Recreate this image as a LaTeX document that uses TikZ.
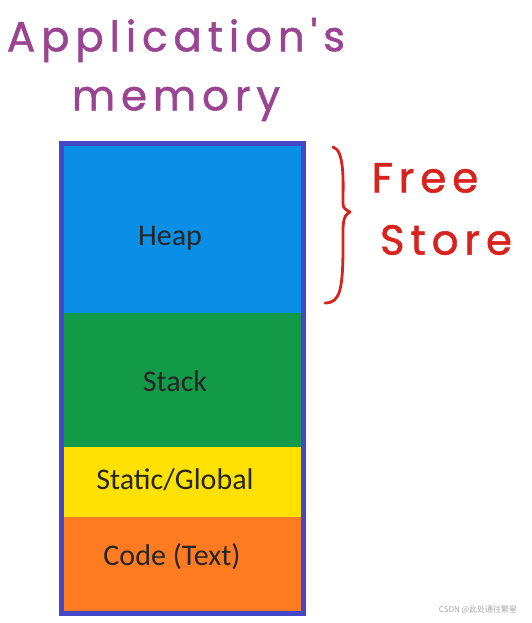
\documentclass[tikz,border=0pt]{standalone}
\usepackage{fontspec}
\setmainfont{Carlito}
\newfontfamily\hand[LetterSpace=14, FakeBold=1.2]{Poppins}
\newfontfamily\cjk{Noto Sans CJK SC}
\usetikzlibrary{positioning}
\definecolor{heapblue}{HTML}{0A8FE6}
\definecolor{stackgreen}{HTML}{139A48}
\definecolor{staticyellow}{HTML}{FFE100}
\definecolor{codeorange}{HTML}{FF7B22}
\definecolor{frameblue}{HTML}{4347C8}
\definecolor{inkpurple}{HTML}{9A4592}
\definecolor{inkred}{HTML}{D8221E}
\begin{document}
\begin{tikzpicture}[
            x=1pt, y=-1pt,
            seg/.style={font=\fontsize{30}{34}\selectfont, text=black!85},
            ink/.style={font=\hand\fontsize{42}{44}\selectfont},
            wmark/.style={font=\cjk\fontsize{8}{9}\selectfont, text=gray!70}
        ]
            \useasboundingbox (0,0) rectangle (531,623);
            % segments
            \fill[heapblue] (62,144) rectangle (304,313);
            \fill[stackgreen] (62,313) rectangle (304,447);
            \fill[staticyellow] (62,447) rectangle (304,517);
            \fill[codeorange] (62,517) rectangle (304,612);
            \draw[frameblue, line width=5] (61.5,143.5) rectangle (303.5,613.5);
            % labels
            \node[seg] (heap) at (170,238) {Heap};
            \node[seg] (stack) at (175,381) {Stack};
            \node[seg] (static) at (175,480) {Static/Global};
            \node[seg] (code) at (172,557) {Code (Text)};
            % title
            \node[ink, text=inkpurple] (app) at (176,40) {Application's};
            \node[ink, text=inkpurple] (mem) at (176,104) {memory};
            % free store brace
            \draw[inkred, line width=2.8, line cap=round, line join=round]
                (333,147) .. controls (345,150) and (343,185) .. (343,200)
                .. controls (343,208) .. (350,212)
                .. controls (342,216) and (343,225) .. (343,245)
                .. controls (343,290) and (340,303) .. (325,303);
            \node[ink, text=inkred] (free) at (425,178) {Free};
            \node[ink, text=inkred] (store) at (446,240) {Store};
            \node[wmark] (wm) at (478,610) {CSDN @此处通往繁星};
        \end{tikzpicture}
\end{document}
